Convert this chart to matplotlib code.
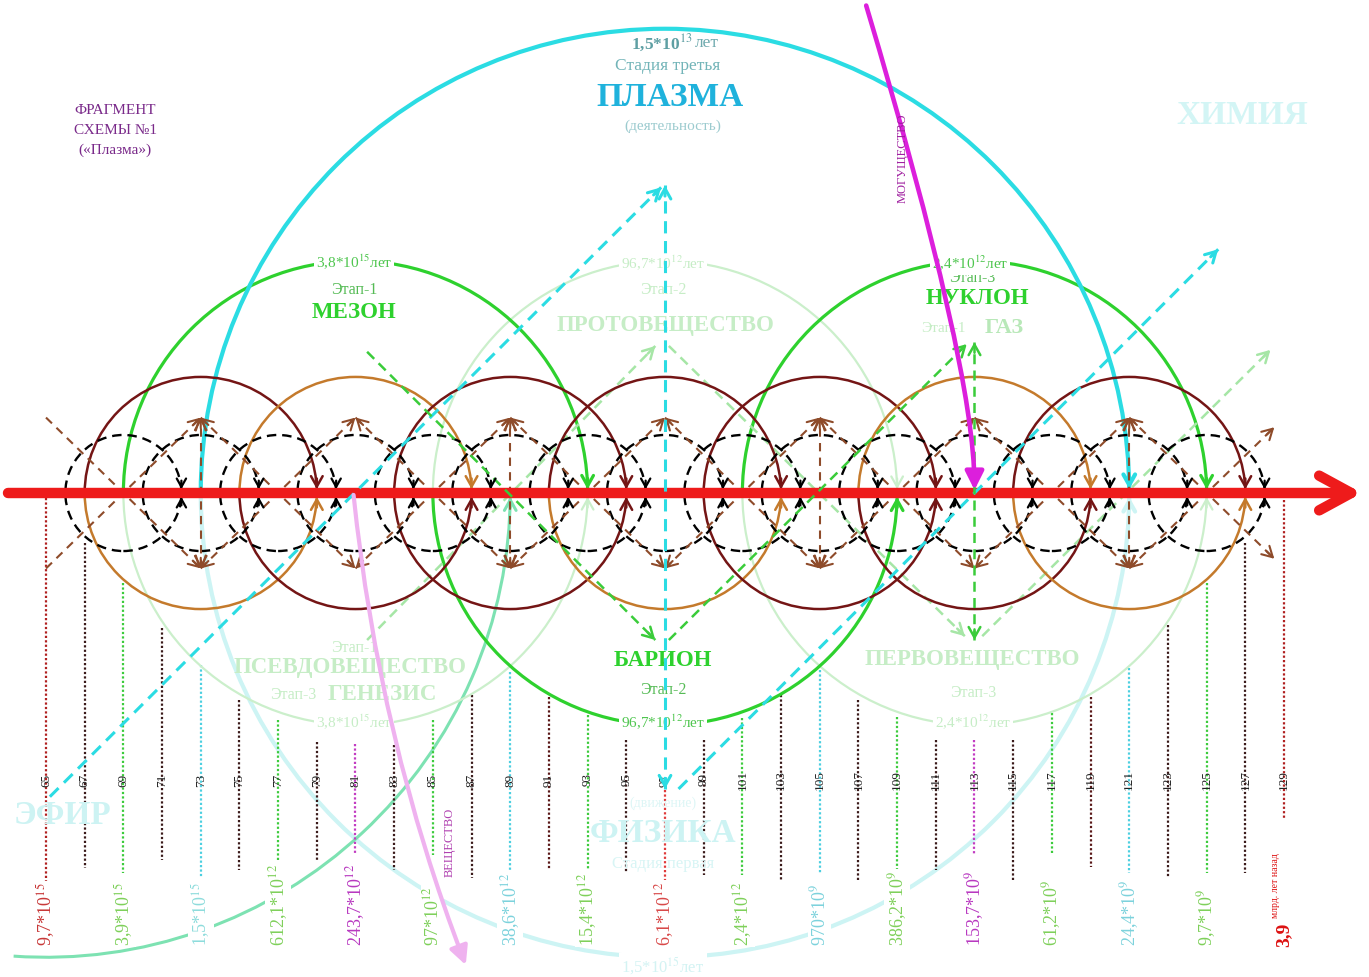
"""Recreation of "Fragment of scheme No.1 (Plasma)": a time axis with nested
stage arcs, cycle circles and dashed transition arrows.

Everything is placed in tick units: x runs with the tick numbers (65..129),
y uses the same unit, 0 is the red axis.
"""
import numpy as np
import matplotlib
matplotlib.use("Agg")  # headless
import matplotlib.pyplot as plt
from matplotlib.patches import Arc, Circle, FancyArrowPatch
from matplotlib.path import Path

plt.rcParams["font.family"] = ["Liberation Serif", "DejaVu Serif"]
plt.rcParams["mathtext.fontset"] = "stix"

# ---------------------------------------------------------------- data
TICKS = list(range(65, 130, 2))
DR, K, G, C, M, R, KR = "#B02020", "#3A1A1A", "#3CCB3C", "#4CCFE0", "#C23CC2", "#E03A3A", "#5A1818"
TICK_COLORS = [DR, K, G, K, C, K, G, K, M, K, G, K, C, KR, G, K, R,
               K, G, K, C, K, G, K, M, K, G, KR, C, K, G, K, DR]
# vertical extent of each dotted tick line, read as picture rows
TICK_TOP_PX = [498, 543, 583, 628, 665, 700, 720, 742, 744, 745, 720, 695, 672, 697, 715, 740, 790,
               740, 718, 695, 670, 700, 717, 740, 740, 740, 713, 697, 668, 625, 583, 543, 500]
TICK_BOT_PX = [882, 868, 873, 860, 878, 870, 865, 862, 855, 870, 855, 878, 878, 870, 870, 872, 880,
               875, 875, 880, 873, 882, 870, 870, 855, 880, 855, 867, 873, 877, 873, 873, 818]

VALUE_TICKS = [65, 69, 73, 77, 81, 85, 89, 93, 97, 101, 105, 109, 113, 117, 121, 125]
VALUE_TEXTS = ["9,7*10$^{15}$", "3,9*10$^{15}$", "1,5*10$^{15}$", "612,1*10$^{12}$",
               "243,7*10$^{12}$", "97*10$^{12}$", "38,6*10$^{12}$", "15,4*10$^{12}$",
               "6,1*10$^{12}$", "2,4*10$^{12}$", "970*10$^{9}$", "386,2*10$^{9}$",
               "153,7*10$^{9}$", "61,2*10$^{9}$", "24,4*10$^{9}$", "9,7*10$^{9}$"]
VALUE_COLORS = ["#C83838", "#7ED05A", "#8EDCDC", "#7ED05A", "#B838C0", "#7ED05A",
                "#7CD2DC", "#7ED05A", "#D84848", "#7ED05A", "#7CD2DC", "#7ED05A",
                "#B838C0", "#7ED05A", "#7CD2DC", "#7ED05A"]

CYCLE_CENTERS = [73, 81, 89, 97, 105, 113, 121]
CYCLE_TOP = ["m", "o", "m", "m", "m", "o", "m"]
CYCLE_BOTTOM = ["o", "m", "m", "o", "m", "m", "o"]
CYCLE_R = 6
SUB_CENTERS = list(range(69, 126, 4))
SUB_R = 3

ZIG_X = [65, 73, 81, 89, 97, 105, 113, 121, 128.5]
ZIG_Y = [3.9, -3.9, 3.9, -3.9, 3.9, -3.9, 3.9, -3.9, 3.4]
ZIG_VERTICALS = [73, 89, 105, 121]

# stage arcs: centre tick, radius, start angle, end angle, kind
ARC_CENTER = [81, 97, 113, 97, 81, 113, 97, 97, 65]
ARC_RADIUS = [12, 12, 12, 12, 12, 12, 24, 24, 24]
ARC_FROM = [0, 180, 0, 0, 180, 180, 0, 180, 266]
ARC_TO = [180, 360, 180, 180, 360, 360, 180, 360, 360]
ARC_KIND = ["green", "green", "green", "pale", "pale", "pale", "cyan", "palecyan", "mint"]

CYAN_DASH = [((65.2, -15.7), (96.8, 15.8), "end"),
             ((97.0, -15.3), (97.0, 15.9), "both"),
             ((97.7, -15.3), (125.6, 12.6), "end")]
GREEN_DASH = [((81.6, 7.3), (96.5, -7.6), "end"),
              ((97.2, -7.6), (112.6, 7.7), "end"),
              ((113.0, -7.6), (113.0, 7.8), "both")]
PALE_DASH = [((81.6, -7.6), (96.5, 7.6), "end"),
             ((97.2, 7.6), (112.5, -7.4), "end"),
             ((113.4, -7.4), (128.3, 7.4), "end")]

MAGENTA_CURVE = [(107.4, 25.2), (113.0, 6.5), (113.0, 0.15)]
PINK_CURVE = [(80.9, -0.1), (82.2, -12.7), (86.7, -24.4)]

# ---------------------------------------------------------------- styles
MAROON, ORANGE, BROWN = "#741515", "#C47A2C", "#8E4B2A"
GREEN, PALE_GREEN = "#2ED12E", "#CBEFCB"
CYAN, PALE_CYAN, MINT = "#2BDCE3", "#CDF4F4", "#7DE2B2"
MAGENTA, PINK, RED = "#DC1FDC", "#EFB2EF", "#EE1B1B"
CYCLE_COL = {"m": MAROON, "o": ORANGE}
ARC_STYLE = {"green": (GREEN, 2.3, 2.2), "pale": (PALE_GREEN, 1.6, 1.0),
             "cyan": (CYAN, 3.0, 2.4), "palecyan": (PALE_CYAN, 3.0, 0.8),
             "mint": (MINT, 2.2, 0.8)}

W, H = 1369, 977
PPU = 1238 / 64                     # picture pixels per tick unit


def px_x(p):
    return 65 + (p - 46) / PPU


def px_y(p):
    return (493 - p) / PPU


fig = plt.figure(figsize=(W / 100, H / 100), dpi=100)
ax = fig.add_axes([0, 0, 1, 1])
ax.axis("off")


def head(tip, frm, color, lw, scale=1.0, z=6, style="->"):
    tip = np.asarray(tip, float)
    frm = np.asarray(frm, float)
    d = tip - frm
    d /= np.hypot(*d)
    ax.add_patch(FancyArrowPatch(tip - d * 0.55 * scale, tip,
                                 arrowstyle=f"{style},head_length={0.75 * scale},head_width={0.42 * scale}",
                                 mutation_scale=10, color=color, lw=lw,
                                 shrinkA=0, shrinkB=0, zorder=z))


def dashed(p0, p1, color, lw, heads="end", z=5, dash=(4, 2.5)):
    ax.plot([p0[0], p1[0]], [p0[1], p1[1]], color=color, lw=lw,
            ls=(0, dash), zorder=z)
    if heads in ("end", "both"):
        head(p1, p0, color, lw, z=z + 0.1)
    if heads in ("start", "both"):
        head(p0, p1, color, lw, z=z + 0.1)


# dotted tick lines, tick numbers and values
for t, col, top, bot in zip(TICKS, TICK_COLORS, TICK_TOP_PX, TICK_BOT_PX):
    ax.plot([t, t], [px_y(top), px_y(bot)], color=col, lw=1.6,
            ls=(0, (1, 1)), zorder=1)
    ax.text(t, px_y(780), str(t), rotation=90, ha="center", va="center",
            fontsize=9.5, color="#222222", zorder=1.2)
for t, s, col in zip(VALUE_TICKS, VALUE_TEXTS, VALUE_COLORS):
    ax.text(t, px_y(946), s, rotation=90, ha="center", va="bottom",
            fontsize=13, color=col, zorder=1.5,
            bbox=dict(fc="white", ec="none", pad=1.0))
ax.text(129, px_y(947), "3,9", rotation=90, ha="center", va="bottom",
        fontsize=14, fontweight="bold", color="#DD1111", zorder=1.5)
ax.text(px_x(1276), px_y(918), "млрд. лет назад", rotation=90, ha="center",
        va="bottom", fontsize=7, color="#DD1111", zorder=1.5)

# stage arcs
for c, r, a0, a1, kind in zip(ARC_CENTER, ARC_RADIUS, ARC_FROM, ARC_TO, ARC_KIND):
    col, lw, z = ARC_STYLE[kind]
    ax.add_patch(Arc((c, 0), 2 * r, 2 * r, theta1=a0, theta2=a1,
                     color=col, lw=lw, zorder=z))
    side = 1 if a1 <= 180 else -1
    head((c + r, 0.2 * side), (c + r, 1.4 * side), col, lw, z=z + 0.1)

# cycle circles (two-coloured halves) and the small dashed sub-cycles
for c, t, b in zip(CYCLE_CENTERS, CYCLE_TOP, CYCLE_BOTTOM):
    ax.add_patch(Arc((c, 0), 2 * CYCLE_R, 2 * CYCLE_R, theta1=0, theta2=180,
                     color=CYCLE_COL[t], lw=1.8, zorder=3))
    ax.add_patch(Arc((c, 0), 2 * CYCLE_R, 2 * CYCLE_R, theta1=180, theta2=360,
                     color=CYCLE_COL[b], lw=1.8, zorder=3))
    head((c + CYCLE_R, 0.2), (c + CYCLE_R, 1.2), CYCLE_COL[t], 1.8)
    head((c + CYCLE_R, -0.2), (c + CYCLE_R, -1.2), CYCLE_COL[b], 1.8)
for c in SUB_CENTERS:
    ax.add_patch(Circle((c, 0), SUB_R, fill=False, ec="black", lw=1.7,
                        ls=(0, (4, 2.5)), zorder=3.2))
    head((c + SUB_R, 0.2), (c + SUB_R, 1.0), "black", 1.6, scale=0.8)
    head((c + SUB_R, -0.2), (c + SUB_R, -1.0), "black", 1.6, scale=0.8)

# brown zig-zags between the cycle peaks
zy = np.asarray(ZIG_Y)
for sign in (1, -1):
    ys = sign * zy
    for i in range(len(ZIG_X) - 1):
        dashed((ZIG_X[i], ys[i]), (ZIG_X[i + 1], ys[i + 1]), BROWN, 1.5,
               heads="end" if i == 0 else "both", z=3.5, dash=(4, 3))
for x in ZIG_VERTICALS:
    dashed((x, -3.9), (x, 3.9), BROWN, 1.5, heads="both", z=3.5, dash=(4, 3))

# the red time axis
ax.add_patch(FancyArrowPatch((px_x(8), 0), (px_x(1362), 0),
                             arrowstyle="->,head_length=2.3,head_width=1.25",
                             mutation_scale=10, lw=7.5, color=RED,
                             capstyle="round", joinstyle="round",
                             shrinkA=0, shrinkB=0, zorder=4))

# dashed transitions
for p0, p1, h in CYAN_DASH:
    dashed(p0, p1, CYAN, 2.2, heads=h, z=5, dash=(4, 2.5))
for p0, p1, h in GREEN_DASH:
    dashed(p0, p1, "#3ACC3A", 1.8, heads=h, z=5, dash=(4, 2.5))
for p0, p1, h in PALE_DASH:
    dashed(p0, p1, "#A6E6A6", 1.8, heads=h, z=2.5, dash=(4, 2.5))

# curved arrows
for pts, col, lw in ((MAGENTA_CURVE, MAGENTA, 3.3), (PINK_CURVE, PINK, 3.0)):
    ax.add_patch(FancyArrowPatch(path=Path(pts, [Path.MOVETO, Path.CURVE3, Path.CURVE3]),
                                 arrowstyle="-|>,head_length=1.1,head_width=0.55",
                                 mutation_scale=10, color=col, lw=lw, zorder=7))
ax.text(px_x(903), px_y(158), "МОГУЩЕСТВО", rotation=90, ha="center",
        va="center", fontsize=9, color="#A020A0", zorder=7)
ax.text(px_x(450), px_y(842), "ВЕЩЕСТВО", rotation=90, ha="center",
        va="center", fontsize=9, color="#B040B0", zorder=7)

# texts: (text, x px, y px, size, weight, colour, boxed)
PG, PC, GT = "#C6EDC6", "#CDF3F3", "#4FC64F"
LABELS = [
    ("ФРАГМЕНТ", 115, 110, 11, "normal", "#7A2A8A", False),
    ("СХЕМЫ №1", 115, 130, 11, "normal", "#7A2A8A", False),
    ("(«Плазма»)", 115, 150, 11, "normal", "#7A2A8A", False),
    ("Стадия третья", 668, 66, 12.5, "normal", "#72B4B8", False),
    ("ПЛАЗМА", 670, 98, 24, "bold", "#1FB2DC", False),
    ("(деятельность)", 673, 126, 11, "normal", "#9CCBCF", False),
    ("ХИМИЯ", 1242, 115, 24, "bold", "#D3F5F5", False),
    ("ЭФИР", 62, 815, 24, "bold", PC, False),
    ("(движение)", 663, 803, 10, "normal", "#DDF6F6", False),
    ("ФИЗИКА", 663, 833, 24, "bold", PC, False),
    ("Стадия первая", 663, 864, 12, "normal", "#D8F5F5", False),
    ("1,5*10$^{15}$лет", 663, 966, 12, "normal", "#D3F3F3", True),
    ("3,8*10$^{15}$лет", 354, 262, 11, "normal", GT, True),
    ("Этап-1", 354, 290, 11.5, "normal", "#55BB55", False),
    ("МЕЗОН", 354, 313, 16.5, "bold", GREEN, False),
    ("96,7*10$^{12}$лет", 663, 263, 11, "normal", PG, True),
    ("Этап-2", 663, 290, 11.5, "normal", PG, False),
    ("ПРОТОВЕЩЕСТВО", 665, 325, 16.5, "bold", PG, False),
    ("2,4*10$^{12}$лет", 970, 263, 11, "normal", GT, True),
    ("Этап-3", 972, 278, 11.5, "normal", "#55BB55", False),
    ("НУКЛОН", 977, 299, 16.5, "bold", GREEN, False),
    ("Этап-1", 943, 328, 11, "normal", PG, False),
    ("ГАЗ", 1004, 328, 16, "bold", "#B8E8B8", False),
    ("Этап-1", 354, 648, 11.5, "normal", PG, False),
    ("ПСЕВДОВЕЩЕСТВО", 350, 668, 16.5, "bold", PG, False),
    ("Этап-3", 293, 695, 11.5, "normal", PG, False),
    ("ГЕНЕЗИС", 382, 695, 16.5, "bold", PG, False),
    ("3,8*10$^{15}$лет", 354, 722, 11, "normal", PG, True),
    ("БАРИОН", 663, 660, 16.5, "bold", GREEN, False),
    ("Этап-2", 663, 690, 11.5, "normal", "#55BB55", False),
    ("96,7*10$^{12}$лет", 663, 722, 11, "normal", GT, True),
    ("ПЕРВОВЕЩЕСТВО", 972, 660, 16.5, "bold", PG, False),
    ("Этап-3", 973, 693, 11.5, "normal", PG, False),
    ("2,4*10$^{12}$лет", 973, 722, 11, "normal", PG, True),
]
for s, x, y, size, weight, col, boxed in LABELS:
    ax.text(px_x(x), px_y(y), s, ha="center", va="center", fontsize=size,
            fontweight=weight, color=col, zorder=2.6 if boxed else 2.2,
            bbox=dict(fc="white", ec="none", pad=1.5) if boxed else None)
ax.text(px_x(692), px_y(43), "1,5*10$^{13}$", ha="right", va="center",
        fontsize=12.5, fontweight="bold", color="#5E9FA3", zorder=2.6)
ax.text(px_x(695), px_y(43), "лет", ha="left", va="center",
        fontsize=12.5, color="#6FAAAE", zorder=2.6)

ax.set_xlim(px_x(0), px_x(W))
ax.set_ylim(px_y(H), px_y(0))
fig.savefig("out.png", dpi=100, facecolor="white")
plt.close(fig)
